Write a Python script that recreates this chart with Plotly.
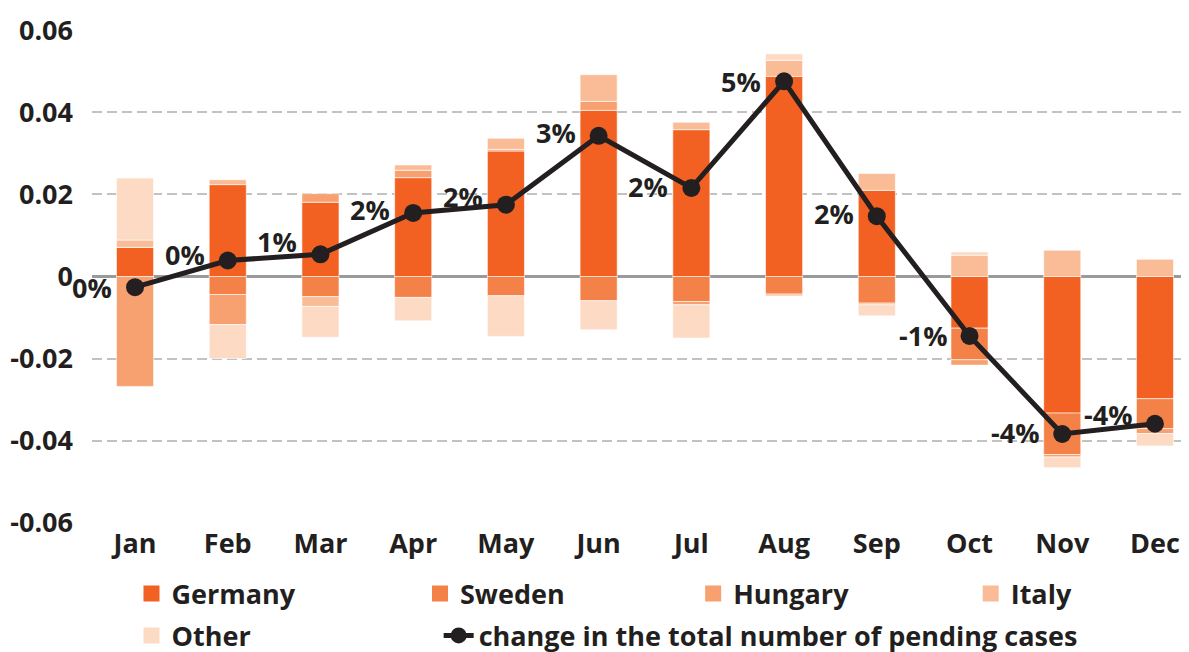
import plotly.graph_objects as go

months = ["Jan", "Feb", "Mar", "Apr", "May", "Jun", "Jul", "Aug", "Sep", "Oct", "Nov", "Dec"]
germany = [0.0071, 0.0224, 0.0181, 0.0241, 0.0306, 0.0405, 0.0358, 0.0488, 0.0210, -0.0126, -0.0333, -0.0298]
sweden = [0.0, -0.0044, -0.0049, -0.0051, -0.0047, -0.0059, -0.0061, -0.0043, -0.0065, -0.0077, -0.0101, -0.0073]
hungary = [-0.0268, -0.0073, 0.0021, 0.0018, 0.0004, 0.0022, -0.0008, -0.0004, -0.0004, -0.0013, -0.0006, -0.0012]
italy = [0.0018, 0.0012, -0.0024, 0.0013, 0.0027, 0.0065, 0.0018, 0.0039, 0.0041, 0.0052, 0.0064, 0.0042]
other = [0.0151, -0.0083, -0.0075, -0.0057, -0.0099, -0.0071, -0.0081, 0.0016, -0.0027, 0.0008, -0.0026, -0.0030]
change = [-0.0026, 0.0039, 0.0054, 0.0155, 0.0175, 0.0343, 0.0216, 0.0476, 0.0147, -0.0145, -0.0384, -0.0359]
change_labels = ["0%", "0%", "1%", "2%", "2%", "3%", "2%", "5%", "2%", "-1%", "-4%", "-4%"]
label_yshift = [0, 6, 13, 3, 8, 3, 1, 0, 3, 0, 2, 9]

ytick_vals = [0.06, 0.04, 0.02, 0, -0.02, -0.04, -0.06]
ytick_text = ["0.06", "0.04", "0.02", "0", "-0.02", "-0.04", "-0.06"]

TXT = "#231F20"
FONT = dict(family="Open Sans", size=27, color=TXT, weight="bold")

# name, values, colour, legend id, legend x (paper), legend y (paper)
series = [
    ("Germany", germany, "#F26122", "legend", 0.036, -0.144),
    ("Sweden", sweden, "#F48147", "legend2", 0.299, -0.144),
    ("Hungary", hungary, "#F7A070", "legend3", 0.548, -0.144),
    ("Italy", italy, "#FABC96", "legend4", 0.801, -0.144),
    ("Other", other, "#FDDAC4", "legend5", 0.036, -0.229),
]
line_legend = ("legend6", 0.316, -0.229)

fig = go.Figure()
legend_layout = {}
for name, vals, col, leg, lx, ly in series:
    fig.add_trace(go.Bar(
        x=months, y=vals, name=name, showlegend=False,
        marker=dict(color=col, line=dict(color="white", width=0.6)),
    ))
    # legend swatch (larger square than the default bar swatch)
    fig.add_trace(go.Scatter(
        x=[None], y=[None], name=name, legend=leg, mode="markers",
        marker=dict(symbol="square", color=col, size=16, line=dict(width=0)),
    ))
    legend_layout[leg] = dict(x=lx, y=ly, xanchor="left", yanchor="middle",
                              orientation="h", font=FONT, bgcolor="rgba(0,0,0,0)",
                              itemsizing="trace")

fig.add_trace(go.Scatter(
    x=months, y=change, name="change in the total number of pending cases",
    legend=line_legend[0],
    mode="lines+markers",
    line=dict(color=TXT, width=5),
    marker=dict(color=TXT, size=18),
))
legend_layout[line_legend[0]] = dict(x=line_legend[1], y=line_legend[2], xanchor="left",
                                     yanchor="middle", orientation="h", font=FONT,
                                     bgcolor="rgba(0,0,0,0)")

for m, v, t, ys in zip(months, change, change_labels, label_yshift):
    fig.add_annotation(x=m, y=v, text=t, showarrow=False, xanchor="right", yanchor="middle",
                       xshift=-21, yshift=ys, font=FONT)

fig.update_layout(
    width=1181, height=644,
    margin=dict(l=84, r=0, t=22, b=129, autoexpand=False),
    paper_bgcolor="white", plot_bgcolor="white",
    barmode="relative", bargap=0.6,
    font=FONT,
    showlegend=True,
    **legend_layout,
)

fig.update_yaxes(
    range=[-0.0601, 0.0601], automargin=False,
    tickvals=ytick_vals, ticktext=ytick_text,
    showgrid=True, gridcolor="#C2C2C2", gridwidth=2, griddash="10px,5px",
    zeroline=True, zerolinecolor="#9A9A9A", zerolinewidth=2.5,
    showline=False, ticks="", ticklabelstandoff=18,
    tickfont=FONT,
)
fig.update_xaxes(
    range=[-0.464, 11.367], automargin=False,
    showgrid=False, showline=False, ticks="", ticklabelstandoff=2,
    tickfont=FONT,
)

fig.write_html("out.html")
